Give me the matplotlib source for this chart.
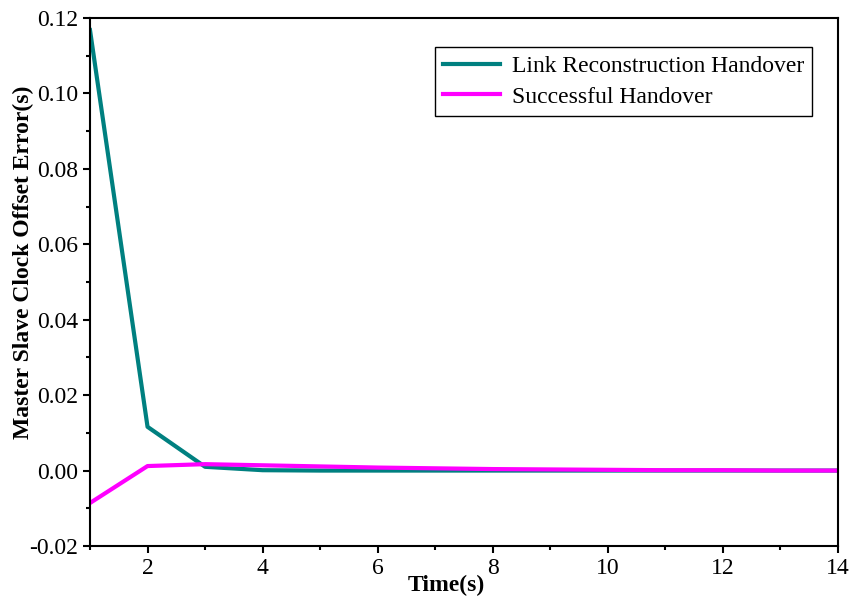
import matplotlib
matplotlib.use('Agg')
import matplotlib.pyplot as plt
from matplotlib.ticker import MultipleLocator, FormatStrFormatter

plt.rcParams['font.family'] = ['Liberation Serif', 'DejaVu Serif']

time = [1, 2, 3, 4, 5, 6, 7, 8, 9, 10, 11, 12, 13, 14]
link_reconstruction = [0.1168, 0.0116, 0.0010, 0.0001, 0.0000, 0.0000, 0.0000,
                       0.0000, 0.0000, 0.0000, 0.0000, 0.0000, 0.0000, 0.0000]
successful = [-0.0086, 0.0012, 0.0017, 0.0014, 0.0011, 0.0008, 0.0006,
              0.0004, 0.0003, 0.0002, 0.0001, 0.0001, 0.0000, 0.0000]

fig = plt.figure(figsize=(8.54, 6.0), dpi=100)
ax = fig.add_axes([90 / 854, 1 - 546 / 600, 748 / 854, 528 / 600])

ax.plot(time, link_reconstruction, color='#008080', lw=3, label='Link Reconstruction Handover')
ax.plot(time, successful, color='#ff00ff', lw=3, label='Successful Handover')

ax.set_xlim(1, 14)
ax.set_ylim(-0.02, 0.12)
ax.set_xticks([2, 4, 6, 8, 10, 12, 14])
ax.xaxis.set_minor_locator(MultipleLocator(1))
ax.yaxis.set_major_locator(MultipleLocator(0.02))
ax.yaxis.set_minor_locator(MultipleLocator(0.01))
ax.yaxis.set_major_formatter(FormatStrFormatter('%.2f'))

ax.tick_params(which='major', direction='out', length=5, width=1.5, labelsize=17)
ax.tick_params(which='minor', direction='out', length=3, width=1.5)
for s in ax.spines.values():
    s.set_linewidth(1.5)

ax.set_xlabel('Time(s)', fontsize=17, fontweight='bold', labelpad=0)
ax.xaxis.set_label_coords(0.476, -0.055)
ax.set_ylabel('Master Slave Clock Offset Error(s)', fontsize=17, fontweight='bold')
ax.yaxis.set_label_coords(-0.075, 0.538)

leg = ax.legend(loc='upper left', bbox_to_anchor=(345 / 748, 1 - 29 / 528), fontsize=17,
                fancybox=False, edgecolor='black', framealpha=1,
                handlelength=2.4, borderpad=0.35, labelspacing=0.4, handletextpad=0.5,
                borderaxespad=0)
leg.get_frame().set_linewidth(1.0)

fig.savefig('out.png', dpi=100)
